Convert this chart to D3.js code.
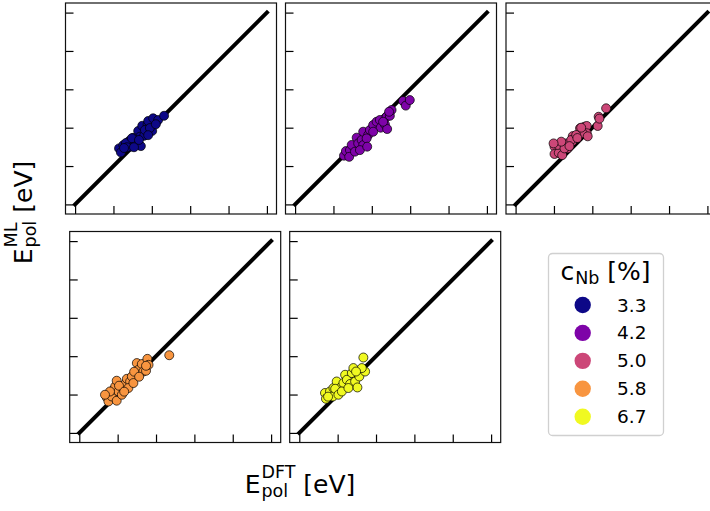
<!DOCTYPE html>
<html>
<head>
<meta charset="utf-8">
<script src="https://cdn.jsdelivr.net/npm/d3@7"></script>
<style>
  html, body { margin: 0; padding: 0; background: #fff; }
  svg { display: block; font-family: "DejaVu Sans", sans-serif; }
</style>
</head>
<body>
<svg id="chart" width="710" height="511"></svg>
<script>
// Nb concentrations (%) and their plasma colours
const concentrations = ["3.3", "4.2", "5.0", "5.8", "6.7"];
const colors = ["#0d0887", "#7e03a8", "#cc4778", "#f89540", "#f0f921"];

// Axis ticks (eV) shared by every panel; the parity line runs from 0 to 1
const tickValues = [0, 0.2, 0.4, 0.6, 0.8, 1.0];
const parity = [0, 1];

// [E_DFT, E_ML] pairs for each concentration
const pts33 = [
  [0.229,0.292],[0.239,0.271],[0.251,0.309],[0.281,0.330],[0.295,0.313],[0.312,0.336],
  [0.286,0.301],[0.329,0.383],[0.338,0.353],[0.360,0.358],[0.350,0.410],[0.378,0.418],
  [0.381,0.435],[0.402,0.383],[0.407,0.449],[0.433,0.440],[0.464,0.462],[0.364,0.388],
  [0.302,0.347],[0.265,0.320],[0.270,0.298],[0.322,0.320],[0.343,0.304],[0.307,0.298],
  [0.390,0.398],[0.381,0.361],[0.421,0.418],[0.296,0.345],[0.255,0.294],[0.333,0.336]
];
const pts42 = [
  [0.255,0.254],[0.265,0.278],[0.286,0.283],[0.295,0.310],[0.321,0.348],[0.329,0.318],
  [0.347,0.336],[0.355,0.379],[0.381,0.362],[0.390,0.388],[0.407,0.414],[0.425,0.431],
  [0.442,0.440],[0.446,0.400],[0.468,0.418],[0.477,0.457],[0.494,0.462],[0.503,0.492],
  [0.480,0.393],[0.563,0.539],[0.577,0.515],[0.598,0.544],[0.282,0.248],[0.312,0.275],
  [0.355,0.309],[0.373,0.344],[0.407,0.379],[0.459,0.431],[0.490,0.483],[0.338,0.283],
  [0.376,0.301]
];
const pts50 = [
  [0.203,0.301],[0.203,0.263],[0.225,0.269],[0.243,0.257],[0.272,0.292],[0.264,0.318],
  [0.298,0.356],[0.295,0.327],[0.336,0.397],[0.359,0.405],[0.371,0.409],[0.371,0.371],
  [0.350,0.371],[0.428,0.409],[0.433,0.457],[0.437,0.447],[0.472,0.501],[0.220,0.310],
  [0.255,0.292],[0.290,0.336],[0.316,0.362],[0.342,0.400],[0.376,0.355],[0.238,0.327],
  [0.198,0.318],[0.322,0.346],[0.281,0.304]
];
const pts58 = [
  [0.143,0.185],[0.152,0.164],[0.169,0.190],[0.195,0.168],[0.178,0.225],[0.187,0.242],
  [0.195,0.272],[0.204,0.216],[0.227,0.234],[0.239,0.255],[0.248,0.282],[0.265,0.268],
  [0.256,0.234],[0.274,0.294],[0.282,0.260],[0.300,0.364],[0.308,0.329],[0.326,0.359],
  [0.334,0.320],[0.348,0.324],[0.355,0.386],[0.361,0.355],[0.469,0.405],[0.222,0.199],
  [0.160,0.216],[0.134,0.199],[0.207,0.246],[0.234,0.215],[0.286,0.319],[0.312,0.293],
  [0.348,0.350]
];
const pts67 = [
  [0.134,0.208],[0.139,0.178],[0.160,0.216],[0.178,0.234],[0.175,0.190],[0.195,0.268],
  [0.204,0.225],[0.216,0.237],[0.187,0.230],[0.230,0.260],[0.239,0.303],[0.248,0.277],
  [0.265,0.255],[0.274,0.312],[0.282,0.338],[0.291,0.268],[0.303,0.237],[0.313,0.294],
  [0.334,0.393],[0.343,0.320],[0.326,0.338],[0.204,0.199],[0.222,0.216],[0.256,0.234],
  [0.296,0.320],[0.150,0.189]
];
const series = [pts33, pts42, pts50, pts58, pts67];

// Panel frames (left, top) and common size
const panelPos = [[65.5, 3], [285.5, 3], [506, 3], [69.7, 231.5], [289.7, 231.5]];
const panelSize = 211;

const svg = d3.select("#chart");

const x = d3.scaleLinear().domain([-0.05, 1.05]).range([0, panelSize]);
const y = d3.scaleLinear().domain([-0.05, 1.05]).range([panelSize, 0]);

series.forEach((pts, i) => {
  const [px, py] = panelPos[i];
  const g = svg.append("g").attr("transform", `translate(${px},${py})`);

  // inward ticks, no labels
  const ax = g.append("g").attr("transform", `translate(0,${panelSize})`)
    .call(d3.axisBottom(x).tickValues(tickValues).tickFormat("").tickSizeInner(-8).tickSizeOuter(0));
  const ay = g.append("g")
    .call(d3.axisLeft(y).tickValues(tickValues).tickFormat("").tickSizeInner(-8).tickSizeOuter(0));
  [ax, ay].forEach(a => {
    a.select(".domain").remove();
    a.selectAll(".tick line").attr("stroke", "#000").attr("stroke-width", 1.2);
  });

  // parity line
  g.append("line")
    .attr("x1", x(parity[0])).attr("y1", y(parity[0]))
    .attr("x2", x(parity[1])).attr("y2", y(parity[1]))
    .attr("stroke", "#000").attr("stroke-width", 4).attr("stroke-linecap", "square");

  g.selectAll("circle.pt").data(pts).join("circle")
    .attr("class", "pt")
    .attr("cx", d => x(d[0])).attr("cy", d => y(d[1])).attr("r", 4.5)
    .attr("fill", colors[i]).attr("stroke", "#000").attr("stroke-width", 0.7);

  g.append("rect").attr("width", panelSize).attr("height", panelSize)
    .attr("fill", "none").attr("stroke", "#111").attr("stroke-width", 1.2);
});

// base + stacked sub/superscript + trailing text, centred on the group origin
function mathLabel(parent, base, sub, sup, tail, size) {
  const inner = parent.append("g");
  const small = size * 0.7;
  const b = inner.append("text").attr("font-size", size).text(base);
  const wb = b.node().getComputedTextLength();
  let ws = 0, wp = 0;
  if (sub) {
    const s = inner.append("text").attr("font-size", small).attr("x", wb + 1).attr("y", size * 0.16).text(sub);
    ws = s.node().getComputedTextLength();
  }
  if (sup) {
    const s = inner.append("text").attr("font-size", small).attr("x", wb + 1).attr("y", -size * 0.6).text(sup);
    wp = s.node().getComputedTextLength();
  }
  const tx = wb + 1 + Math.max(ws, wp) + size * 0.32;
  const t = inner.append("text").attr("font-size", size).attr("x", tx).text(tail);
  const total = tx + t.node().getComputedTextLength();
  inner.attr("transform", `translate(${-total / 2},0)`);
}

mathLabel(svg.append("g").attr("transform", "translate(300,493)"), "E", "pol", "DFT", "[eV]", 25);
mathLabel(svg.append("g").attr("transform", "translate(31.5,212.5) rotate(-90)"), "E", "pol", "ML", "[eV]", 25);

// legend
const lg = svg.append("g");
lg.append("rect").attr("x", 548.5).attr("y", 253.5).attr("width", 115).attr("height", 182)
  .attr("rx", 4).attr("fill", "#fff").attr("stroke", "#d0d0d0").attr("stroke-width", 1.3);

(function title() {
  const g = lg.append("g").attr("transform", "translate(605.5,280)");
  const inner = g.append("g");
  const c = inner.append("text").attr("font-size", 25).text("c");
  const wc = c.node().getComputedTextLength();
  const s = inner.append("text").attr("font-size", 17.5).attr("x", wc + 1).attr("y", 4).text("Nb");
  const tx = wc + 1 + s.node().getComputedTextLength() + 8;
  const t = inner.append("text").attr("font-size", 25).attr("x", tx).text("[%]");
  const total = tx + t.node().getComputedTextLength();
  inner.attr("transform", `translate(${-total / 2},0)`);
})();

const rowY = d3.scaleLinear().domain([0, concentrations.length - 1]).range([305, 416.7]);
concentrations.forEach((c, i) => {
  lg.append("circle").attr("cx", 582.7).attr("cy", rowY(i)).attr("r", 8.2).attr("fill", colors[i]);
  lg.append("text").attr("x", 617).attr("y", rowY(i) + 6.5).attr("font-size", 18.5).text(c);
});
</script>
</body>
</html>
